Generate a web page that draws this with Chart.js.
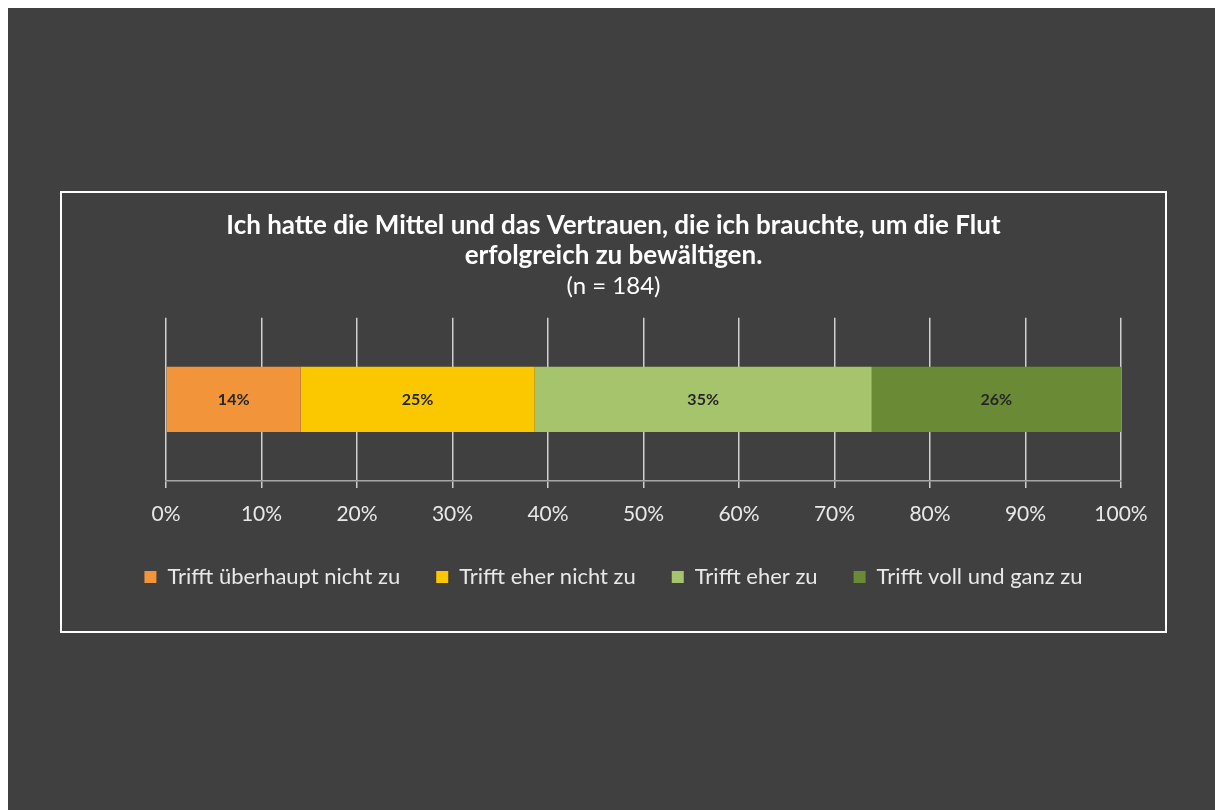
<!DOCTYPE html>
<html lang="de">
<head>
    <meta charset="UTF-8">
    <title>Mittel und Vertrauen – Flut</title>
    <script src="https://cdn.jsdelivr.net/npm/chart.js"></script>
    <style>
        body {
            margin: 0;
            background-color: #ffffff;
            font-family: Lato, Arial, sans-serif;
        }
        .slide {
            position: absolute;
            left: 8px;
            top: 8px;
            width: 1207px;
            height: 802px;
            background-color: #404040;
        }
        .chart-box {
            position: absolute;
            left: 52px;
            top: 183px;
            width: 1103px;
            height: 438px;
            border: 2px solid #ffffff;
        }
    </style>
</head>
<body>

<div class="slide">
    <div class="chart-box">
        <canvas id="floodChart"></canvas>
    </div>
</div>

<script>
// Antworten (n = 184), Anteile in Prozent
const answers = ['Trifft überhaupt nicht zu', 'Trifft eher nicht zu', 'Trifft eher zu', 'Trifft voll und ganz zu'];
const shares = [14.1, 24.5, 35.3, 26.1];
const colors = ['#F2953A', '#FBC800', '#A6C46B', '#6B8A36'];
const xTicks = [0, 10, 20, 30, 40, 50, 60, 70, 80, 90, 100];

const FONT = 'Lato, Arial, sans-serif';

// value labels in the middle of each segment
const barLabels = {
    id: 'barLabels',
    afterDatasetsDraw(chart) {
        const ctx = chart.ctx;
        ctx.save();
        ctx.font = 'bold 16px ' + FONT;
        ctx.fillStyle = '#262626';
        ctx.textAlign = 'center';
        ctx.textBaseline = 'middle';
        chart.data.datasets.forEach((ds, i) => {
            chart.getDatasetMeta(i).data.forEach((bar, j) => {
                const p = bar.getCenterPoint();
                ctx.fillText(Math.round(ds.data[j]) + '%', p.x, p.y);
            });
        });
        ctx.restore();
    }
};

new Chart(document.getElementById('floodChart'), {
    type: 'bar',
    data: {
        labels: [''],
        datasets: answers.map((name, i) => ({
            label: name,
            data: [shares[i]],
            backgroundColor: colors[i],
            borderWidth: 0,
            barPercentage: 0.4,
            categoryPercentage: 1
        }))
    },
    options: {
        indexAxis: 'y',
        responsive: true,
        maintainAspectRatio: false,
        animation: false,
        layout: {
            padding: { left: 44, right: 44, top: 0, bottom: 33 }
        },
        scales: {
            x: {
                stacked: true,
                min: 0,
                max: 100,
                afterBuildTicks: axis => {
                    axis.ticks = xTicks.map(v => ({ value: v }));
                },
                afterFit: scale => { scale.height = 49; },
                grid: {
                    color: '#cfcfcf',
                    lineWidth: 1.5,
                    drawTicks: true,
                    tickLength: 7
                },
                border: {
                    display: true,
                    color: '#a6a6a6',
                    width: 1.5
                },
                ticks: {
                    padding: 14,
                    color: '#e8e8e8',
                    font: { family: FONT, size: 21 },
                    callback: v => v + '%'
                }
            },
            y: {
                stacked: true,
                afterFit: scale => { scale.width = 60; },
                grid: { display: false },
                border: { display: false },
                ticks: { display: false }
            }
        },
        plugins: {
            title: {
                display: true,
                text: ['Ich hatte die Mittel und das Vertrauen, die ich brauchte, um die Flut', 'erfolgreich zu bewältigen.'],
                color: '#ffffff',
                font: { family: FONT, size: 26, weight: 'bold', lineHeight: 1.154 },
                padding: { top: 18, bottom: 0 }
            },
            subtitle: {
                display: true,
                text: '(n = 184)',
                color: '#ffffff',
                font: { family: FONT, size: 24, lineHeight: 1.2 },
                padding: { top: 1, bottom: 17 }
            },
            legend: {
                position: 'bottom',
                labels: {
                    color: '#e8e8e8',
                    boxWidth: 12,
                    boxHeight: 12,
                    padding: 36,
                    font: { family: FONT, size: 22 }
                }
            },
            tooltip: { enabled: false }
        }
    },
    plugins: [barLabels]
});
</script>

</body>
</html>
